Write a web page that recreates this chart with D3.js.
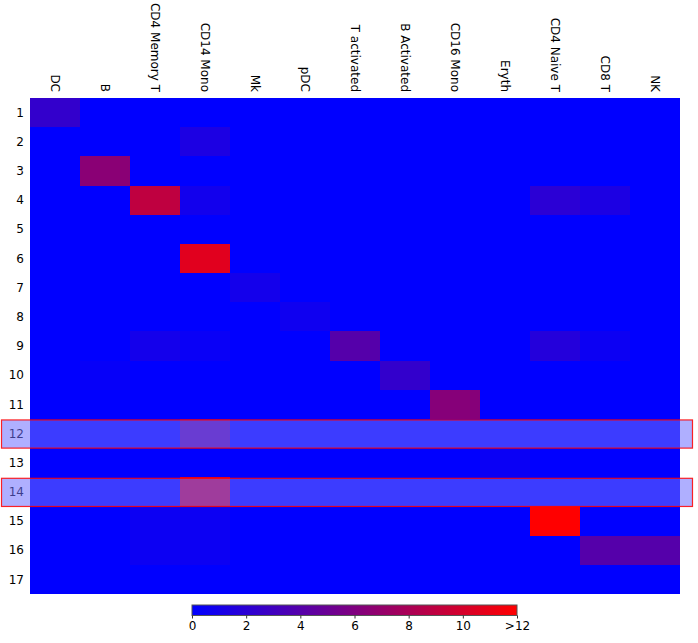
<!DOCTYPE html>
<html>
<head>
<meta charset="utf-8">
<script src="https://cdn.jsdelivr.net/npm/d3@7"></script>
<style>
  body { margin: 0; background: #fff; }
  text { font-family: "DejaVu Sans", sans-serif; }
</style>
</head>
<body>
<div id="chart"></div>
<script>
// cell types along the top, clusters down the side
var columns = ['DC', 'B', 'CD4 Memory T', 'CD14 Mono', 'Mk', 'pDC', 'T activated',
               'B Activated', 'CD16 Mono', 'Eryth', 'CD4 Naive T', 'CD8 T', 'NK'];
var rows = ['1', '2', '3', '4', '5', '6', '7', '8', '9', '10', '11', '12', '13', '14', '15', '16', '17'];

// one entry per row, same order as columns
var values = [
  [2.4, 0, 0, 0, 0, 0, 0, 0, 0, 0, 0, 0, 0],
  [0, 0, 0, 1.3, 0, 0, 0, 0, 0, 0, 0, 0, 0],
  [0, 6.5, 0, 0, 0, 0, 0, 0, 0, 0, 0, 0, 0],
  [0, 0, 9.0, 0.85, 0, 0, 0, 0, 0, 0, 2.0, 1.3, 0],
  [0, 0, 0, 0, 0, 0, 0, 0, 0, 0, 0, 0, 0],
  [0, 0, 0, 10.6, 0, 0, 0, 0, 0, 0, 0, 0, 0],
  [0, 0, 0, 0, 0.95, 0, 0, 0, 0, 0, 0, 0, 0],
  [0, 0, 0, 0, 0, 0.7, 0, 0, 0, 0, 0, 0, 0],
  [0, 0, 0.95, 0.4, 0, 0, 4.0, 0, 0, 0, 1.7, 0.55, 0],
  [0, 0.3, 0, 0, 0, 0, 0, 2.4, 0, 0, 0, 0, 0],
  [0, 0, 0, 0, 0, 0, 0, 0, 6.3, 0, 0, 0, 0],
  [0, 0, 0, 4.7, 0, 0, 0, 0, 0, 0, 0, 0, 0],
  [0, 0, 0, 0, 0, 0, 0, 0, 0, 0.45, 0, 0, 0],
  [0, 0, 0, 10.3, 0, 0, 0, 0, 0, 0, 0, 0, 0],
  [0, 0, 0.55, 0.55, 0, 0, 0, 0, 0, 0, 14, 0, 0],
  [0, 0, 0.55, 0.55, 0, 0, 0, 0, 0, 0, 0, 4.0, 4.0],
  [0, 0, 0, 0, 0, 0, 0, 0, 0, 0, 0, 0, 0]
];

var highlighted = ['12', '14'];
var legendTicks = [0, 2, 4, 6, 8, 10, 12];

var W = 698, H = 643;
var gridLeft = 30, gridTop = 98, gridW = 650, gridH = 496;

var svg = d3.select('#chart').append('svg')
    .attr('width', W)
    .attr('height', H);

var x = d3.scaleBand().domain(columns).range([gridLeft, gridLeft + gridW]);
var y = d3.scaleBand().domain(rows).range([gridTop, gridTop + gridH]);
var color = d3.scaleLinear().domain([0, 12]).range(['#0000ff', '#ff0000']).clamp(true);

var cells = [];
values.forEach(function(r, i) {
  r.forEach(function(v, j) {
    cells.push({row: rows[i], col: columns[j], v: v});
  });
});

// blue backdrop so no seams show between cells
svg.append('rect')
    .attr('x', gridLeft)
    .attr('y', gridTop)
    .attr('width', gridW)
    .attr('height', gridH)
    .attr('fill', color(0));

svg.append('g').selectAll('rect')
    .data(cells)
  .enter().append('rect')
    .attr('x', function(d) { return Math.round(x(d.col)); })
    .attr('y', function(d) { return Math.round(y(d.row)); })
    .attr('width', function(d) { return Math.round(x(d.col) + x.bandwidth()) - Math.round(x(d.col)); })
    .attr('height', function(d) { return Math.round(y(d.row) + y.bandwidth()) - Math.round(y(d.row)); })
    .attr('shape-rendering', 'crispEdges')
    .attr('fill', function(d) { return color(d.v); });

// column labels, turned to read downward
svg.append('g').selectAll('text')
    .data(columns)
  .enter().append('text')
    .attr('transform', function(d) {
      return 'translate(' + (x(d) + x.bandwidth() / 2) + ',92) rotate(90)';
    })
    .attr('text-anchor', 'end')
    .attr('dy', '0.35em')
    .style('font-size', '12px')
    .attr('fill', '#000')
    .text(String);

// row labels
svg.append('g').selectAll('text')
    .data(rows)
  .enter().append('text')
    .attr('x', 24)
    .attr('y', function(d) { return y(d) + y.bandwidth() / 2; })
    .attr('dy', '0.35em')
    .attr('text-anchor', 'end')
    .style('font-size', '12px')
    .attr('fill', '#000')
    .text(String);

// selected rows
svg.append('g').selectAll('rect')
    .data(highlighted)
  .enter().append('rect')
    .attr('x', 1.5)
    .attr('y', function(d) { return y(d) + 1; })
    .attr('width', 691)
    .attr('height', y.bandwidth() - 1)
    .attr('fill', 'rgb(110,110,255)')
    .attr('fill-opacity', 0.55)
    .attr('stroke', '#ff0000')
    .attr('stroke-opacity', 0.85)
    .attr('stroke-width', 1.2);

// colour legend
var lx = d3.scaleLinear().domain([0, 12]).range([192, 517]);
var grad = svg.append('defs').append('linearGradient')
    .attr('id', 'grad');
grad.append('stop').attr('offset', '0%').attr('stop-color', color(0));
grad.append('stop').attr('offset', '100%').attr('stop-color', color(12));

svg.append('rect')
    .attr('x', lx(0))
    .attr('y', 605)
    .attr('width', lx(12) - lx(0))
    .attr('height', 10.5)
    .attr('fill', 'url(#grad)')
    .attr('stroke', '#555')
    .attr('stroke-width', 1);

var axis = d3.axisBottom(lx)
    .tickValues(legendTicks)
    .tickSize(3)
    .tickFormat(function(d) { return d === 12 ? '>12' : d; });

var ag = svg.append('g')
    .attr('transform', 'translate(0,615.5)')
    .call(axis);
ag.select('.domain').remove();
ag.selectAll('line').attr('stroke', '#333');
ag.selectAll('text')
    .attr('y', 6)
    .style('font-size', '12px')
    .style('font-family', '"DejaVu Sans", sans-serif')
    .attr('fill', '#000');
</script>
</body>
</html>
